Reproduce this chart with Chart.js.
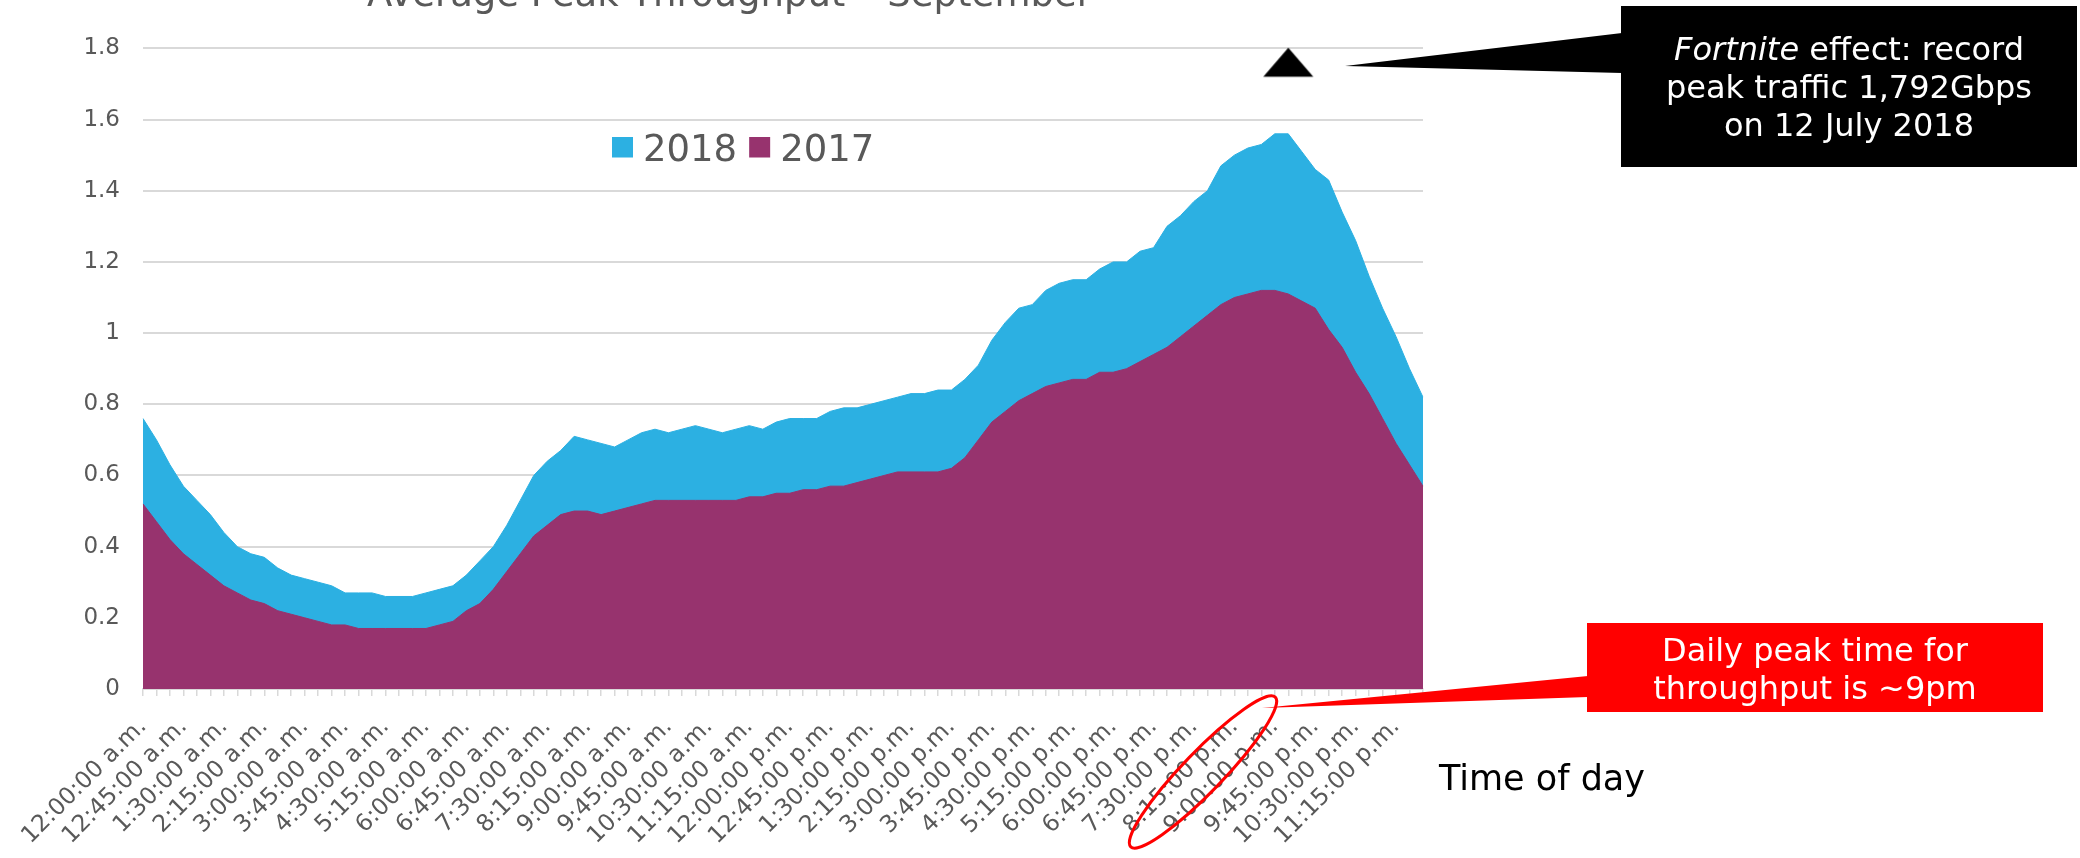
<!DOCTYPE html>
<html>
<head>
<meta charset="utf-8">
<script src="https://cdn.jsdelivr.net/npm/chart.js@4"></script>
<style>
    html, body {
        margin: 0;
        padding: 0;
        background: #fff;
        overflow: hidden;
    }
    .chart {
        width: 2080px;
        height: 858px;
        overflow: hidden;
    }
    /* the title is cut off at the top in the original, so the canvas is shifted up */
    #myChart {
        display: block;
        margin-top: -30px;
    }
</style>
</head>
<body>
<div class="chart">
    <canvas id="myChart" width="2080" height="888"></canvas>
</div>
<script>
    // 15 minute slots over one day
    const timeLabels = [];
    for (let m = 0; m < 24 * 60; m += 15) {
        const h = Math.floor(m / 60);
        const h12 = h % 12 === 0 ? 12 : h % 12;
        timeLabels.push(h12 + ':' + String(m % 60).padStart(2, '0') + ':00 ' + (h < 12 ? 'a.m.' : 'p.m.'));
    }

    const series2018 = [
        0.76, 0.70, 0.63, 0.57, 0.53, 0.49, 0.44, 0.40, 0.38, 0.37,
        0.34, 0.32, 0.31, 0.30, 0.29, 0.27, 0.27, 0.27, 0.26, 0.26,
        0.26, 0.27, 0.28, 0.29, 0.32, 0.36, 0.40, 0.46, 0.53, 0.60,
        0.64, 0.67, 0.71, 0.70, 0.69, 0.68, 0.70, 0.72, 0.73, 0.72,
        0.73, 0.74, 0.73, 0.72, 0.73, 0.74, 0.73, 0.75, 0.76, 0.76,
        0.76, 0.78, 0.79, 0.79, 0.80, 0.81, 0.82, 0.83, 0.83, 0.84,
        0.84, 0.87, 0.91, 0.98, 1.03, 1.07, 1.08, 1.12, 1.14, 1.15,
        1.15, 1.18, 1.20, 1.20, 1.23, 1.24, 1.30, 1.33, 1.37, 1.40,
        1.47, 1.50, 1.52, 1.53, 1.56, 1.56, 1.51, 1.46, 1.43, 1.34,
        1.26, 1.16, 1.07, 0.99, 0.90, 0.82
    ];

    const series2017 = [
        0.52, 0.47, 0.42, 0.38, 0.35, 0.32, 0.29, 0.27, 0.25, 0.24,
        0.22, 0.21, 0.20, 0.19, 0.18, 0.18, 0.17, 0.17, 0.17, 0.17,
        0.17, 0.17, 0.18, 0.19, 0.22, 0.24, 0.28, 0.33, 0.38, 0.43,
        0.46, 0.49, 0.50, 0.50, 0.49, 0.50, 0.51, 0.52, 0.53, 0.53,
        0.53, 0.53, 0.53, 0.53, 0.53, 0.54, 0.54, 0.55, 0.55, 0.56,
        0.56, 0.57, 0.57, 0.58, 0.59, 0.60, 0.61, 0.61, 0.61, 0.61,
        0.62, 0.65, 0.70, 0.75, 0.78, 0.81, 0.83, 0.85, 0.86, 0.87,
        0.87, 0.89, 0.89, 0.90, 0.92, 0.94, 0.96, 0.99, 1.02, 1.05,
        1.08, 1.10, 1.11, 1.12, 1.12, 1.11, 1.09, 1.07, 1.01, 0.96,
        0.89, 0.83, 0.76, 0.69, 0.63, 0.57
    ];

    // record peak marker (1,792Gbps)
    const recordLabel = '9:15:00 p.m.';
    const recordValue = 1.792;

    const SHIFT = 30;
    const FONT = '"DejaVu Sans", Verdana, sans-serif';
    const GREY = '#595959';

    // flat black triangle used as the point style of the record marker
    const tri = document.createElement('canvas');
    tri.width = 52;
    tri.height = 60;
    (function() {
        const c = tri.getContext('2d');
        c.fillStyle = '#000';
        c.beginPath();
        c.moveTo(26, 26.4);
        c.lineTo(51, 55.4);
        c.lineTo(1, 55.4);
        c.closePath();
        c.fill();
    })();

    function drawCallout(ctx, box, wedge, fill) {
        ctx.fillStyle = fill;
        ctx.fillRect(box.x, box.y, box.w, box.h);
        ctx.beginPath();
        ctx.moveTo(wedge[0][0], wedge[0][1]);
        ctx.lineTo(wedge[1][0], wedge[1][1]);
        ctx.lineTo(wedge[2][0], wedge[2][1]);
        ctx.closePath();
        ctx.fill();
    }

    const overlay = {
        id: 'overlay',
        afterDraw(chart) {
            const ctx = chart.ctx;
            ctx.save();
            ctx.translate(0, SHIFT);

            // legend inside plot area
            ctx.font = '37px ' + FONT;
            ctx.textBaseline = 'alphabetic';
            ctx.textAlign = 'left';
            let x = 612;
            [0, 1].forEach((i) => {
                const ds = chart.data.datasets[i];
                ctx.fillStyle = ds.backgroundColor;
                ctx.fillRect(x, 137, 21, 20.5);
                x += 31;
                ctx.fillStyle = GREY;
                ctx.fillText(ds.label, x, 160.5);
                x += ctx.measureText(ds.label).width + 12;
            });

            // axis caption
            ctx.fillStyle = '#000';
            ctx.font = '35px ' + FONT;
            ctx.fillText('Time of day', 1439, 790);

            // Fortnite callout
            drawCallout(ctx, { x: 1621, y: 6, w: 456, h: 161 },
                [[1622, 33], [1345, 66], [1622, 73]], '#000');
            ctx.fillStyle = '#fff';
            ctx.font = 'italic 32px ' + FONT;
            const w1 = ctx.measureText('Fortnite').width;
            ctx.font = '32px ' + FONT;
            const w2 = ctx.measureText(' effect: record').width;
            let lx = 1849 - (w1 + w2) / 2;
            ctx.font = 'italic 32px ' + FONT;
            ctx.fillText('Fortnite', lx, 60);
            ctx.font = '32px ' + FONT;
            ctx.fillText(' effect: record', lx + w1, 60);
            ctx.textAlign = 'center';
            ctx.fillText('peak traffic 1,792Gbps', 1849, 98);
            ctx.fillText('on 12 July 2018', 1849, 136);

            // peak time callout
            drawCallout(ctx, { x: 1587, y: 623, w: 456, h: 89 },
                [[1588, 676], [1262, 708], [1588, 697]], '#ff0000');
            ctx.fillStyle = '#fff';
            ctx.fillText('Daily peak time for', 1815, 661);
            ctx.fillText('throughput is ~9pm', 1815, 699);

            // ring around the 9pm labels
            ctx.strokeStyle = '#ff0000';
            ctx.lineWidth = 3;
            ctx.beginPath();
            ctx.ellipse(1203, 772, 104, 20, -46 * Math.PI / 180, 0, Math.PI * 2);
            ctx.stroke();

            ctx.restore();
        }
    };

    const ctx = document.getElementById('myChart').getContext('2d');
    const myChart = new Chart(ctx, {
        type: 'line',
        data: {
            labels: timeLabels,
            datasets: [
                {
                    label: '2018',
                    data: series2018,
                    backgroundColor: '#2cb0e2',
                    borderColor: '#2cb0e2',
                    borderWidth: 1,
                    fill: 'origin',
                    pointRadius: 0,
                    tension: 0,
                    order: 1
                },
                {
                    label: '2017',
                    data: series2017,
                    backgroundColor: '#97336e',
                    borderColor: '#97336e',
                    borderWidth: 1,
                    fill: 'origin',
                    pointRadius: 0,
                    tension: 0,
                    order: 0
                },
                {
                    label: 'record',
                    data: [{ x: recordLabel, y: recordValue }],
                    showLine: false,
                    pointStyle: tri,
                    pointRadius: 10,
                    clip: false,
                    order: -1
                }
            ]
        },
        options: {
            responsive: false,
            animation: false,
            devicePixelRatio: 1,
            layout: {
                padding: { left: 36, right: 657, top: 0, bottom: 0 }
            },
            plugins: {
                legend: { display: false },
                tooltip: { enabled: false },
                title: {
                    display: true,
                    text: 'Average Peak Throughput \u2013 September',
                    color: GREY,
                    font: { family: FONT, size: 37, weight: 'normal', lineHeight: 1.2 },
                    padding: { top: 4, bottom: 30 }
                }
            },
            scales: {
                x: {
                    ticks: {
                        autoSkip: false,
                        maxRotation: 45,
                        minRotation: 45,
                        padding: 17,
                        color: GREY,
                        font: { family: FONT, size: 23.5 },
                        callback: (v, i) => (i % 3 === 0 ? timeLabels[i] : '')
                    },
                    grid: {
                        drawOnChartArea: false,
                        tickLength: 7,
                        color: '#d9d9d9',
                        lineWidth: 1.5
                    },
                    border: { color: '#d9d9d9', width: 2 },
                    afterFit(s) { s.height = 169; }
                },
                y: {
                    min: 0,
                    max: 1.8,
                    ticks: {
                        stepSize: 0.2,
                        padding: 23,
                        color: GREY,
                        font: { family: FONT, size: 23 },
                        callback: (v) => String(+v.toFixed(1))
                    },
                    grid: { color: '#d9d9d9', lineWidth: 2, drawTicks: false },
                    border: { display: false },
                    afterFit(s) { s.width = 107; }
                }
            }
        },
        plugins: [overlay]
    });
</script>
</body>
</html>
